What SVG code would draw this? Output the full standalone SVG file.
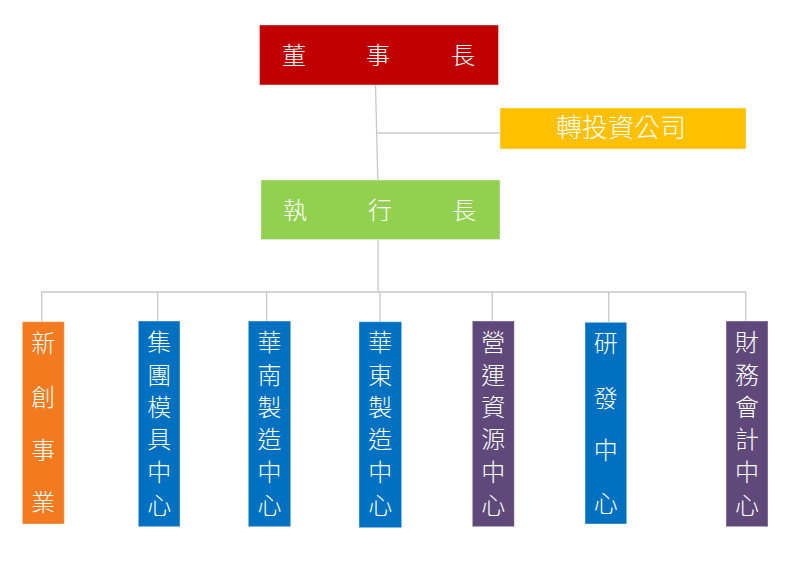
<svg xmlns="http://www.w3.org/2000/svg" width="790" height="565" viewBox="0 0 790 565">
<style>
.t{font-family:"Noto Sans CJK TC","Noto Sans CJK SC",sans-serif;font-weight:300;fill:#ffffff;font-size:24px;text-anchor:middle}
.c{stroke:#c8c8c8;stroke-width:1.3;fill:none}
.b{stroke:#ffffff;stroke-opacity:0.4;stroke-width:1}
</style>
<rect width="790" height="565" fill="#ffffff"/>
<g id="connectors">
<path class="c" d="M375.5 85 L377.8 180"/>
<path class="c" d="M377 133 H500"/>
<path class="c" d="M378 239 V292"/>
<path class="c" d="M41.7 322 V292 H745.7 V321"/>
<path class="c" d="M157.7 292 V321"/>
<path class="c" d="M266.7 292 V321"/>
<path class="c" d="M380 292 V322"/>
<path class="c" d="M492.3 292 V321"/>
<path class="c" d="M608.7 292 V322"/>
</g>
<g id="chairman">
<rect class="b" x="259.5" y="25" width="239" height="60" fill="#C00000"/>
<text class="t" x="294 378 463" y="64">董事長</text>
</g>
<g id="investment">
<rect class="b" x="500" y="108" width="246" height="41" fill="#FFC000"/>
<text class="t" x="621" y="137" style="font-size:26px">轉投資公司</text>
</g>
<g id="ceo">
<rect class="b" x="261" y="180" width="239" height="59.5" fill="#92D050"/>
<text class="t" x="295 380 464" y="219">執行長</text>
</g>
<g id="new-business">
<rect class="b" x="22.3" y="321.7" width="42" height="202.3" fill="#F47A1F"/>
<text class="t" x="43.3 43.3 43.3 43.3" y="352 406 459 511">新創事業</text>
</g>
<g id="group-mold">
<rect class="b" x="138.3" y="321" width="41.7" height="205.7" fill="#0070C0"/>
<text class="t" x="159.2 159.2 159.2 159.2 159.2 159.2" y="351 384 416 448 481 514">集團模具中心</text>
</g>
<g id="south-china">
<rect class="b" x="248.3" y="321" width="42.4" height="205.7" fill="#0070C0"/>
<text class="t" x="269.5 269.5 269.5 269.5 269.5 269.5" y="351 384 416 448 481 514">華南製造中心</text>
</g>
<g id="east-china">
<rect class="b" x="359" y="321.7" width="42.7" height="206" fill="#0070C0"/>
<text class="t" x="380.3 380.3 380.3 380.3 380.3 380.3" y="351 384 416 448 481 514">華東製造中心</text>
</g>
<g id="operations">
<rect class="b" x="472.3" y="321" width="42" height="205.7" fill="#5F497A"/>
<text class="t" x="493.3 493.3 493.3 493.3 493.3 493.3" y="351 384 416 448 481 514">營運資源中心</text>
</g>
<g id="rnd">
<rect class="b" x="585" y="322.3" width="41.7" height="201.7" fill="#0070C0"/>
<text class="t" x="605.8 605.8 605.8 605.8" y="352 407 459 512">研發中心</text>
</g>
<g id="finance">
<rect class="b" x="726" y="321" width="42" height="205.7" fill="#5F497A"/>
<text class="t" x="747 747 747 747 747 747" y="351 384 416 448 481 514">財務會計中心</text>
</g>
</svg>
